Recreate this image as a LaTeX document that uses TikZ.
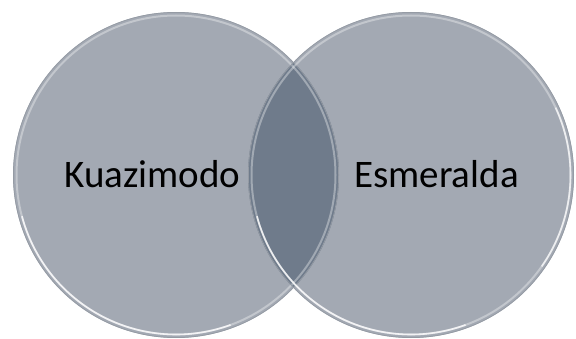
\documentclass[tikz,border=0pt]{standalone}
\usepackage{fontspec}
\setmainfont{Carlito}
\usepackage{xcolor}
\definecolor{circlegray}{HTML}{A3A9B3}
\definecolor{lensgray}{HTML}{6F7B8B}
\definecolor{rimgray}{HTML}{959BA4}

\begin{document}
\begin{tikzpicture}[x=1pt,y=1pt,
    venn/.style={circle, minimum size=326pt, inner sep=0pt, fill=circlegray},
    vennlabel/.style={font=\fontsize{39}{47}\selectfont, anchor=base, inner sep=0pt}]
        \useasboundingbox (0,0) rectangle (576,338);
        \node[venn] (kuaz) at (176,163) {};
        \node[venn] (esme) at (411,163) {};
        % overlap
        \begin{scope}
            \clip (kuaz.center) circle (163);
            \fill[lensgray] (esme.center) circle (163);
        \end{scope}
        % glossy rims
        \foreach \c in {kuaz,esme} {
            \draw[rimgray, line width=0.7pt] (\c.center) circle (162.6);
            \draw[white, opacity=0.35, line width=2pt] (\c.center) circle (159.5);
            \draw[white, opacity=0.8, line width=1.6pt] ([shift={(195:159.5)}]\c.center) arc (195:290:159.5);
        }
        \draw[white, opacity=0.7, line width=1.6pt] ([shift={(-35:159.5)}]esme.center) arc (-35:25:159.5);
        \node[vennlabel] (kuaztext) at (152.5,151) {Kuazimodo};
        \node[vennlabel] (esmetext) at (436.5,151) {Esmeralda};
    \end{tikzpicture}
\end{document}
